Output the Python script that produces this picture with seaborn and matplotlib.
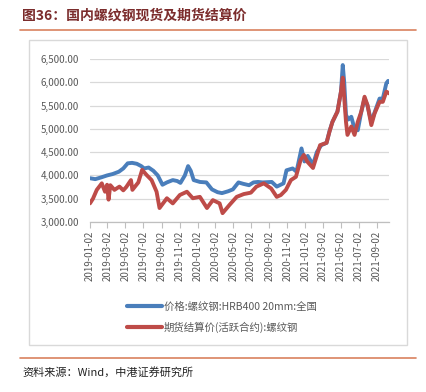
import pandas as pd
import matplotlib
matplotlib.use("Agg")
import matplotlib.pyplot as plt
import matplotlib.dates as mdates
from matplotlib.lines import Line2D
from matplotlib.patches import Rectangle
from matplotlib.ticker import FuncFormatter
import seaborn as sns

# spot price, HRB400 20mm rebar, national average
spot_dates = [
    "2019-01-02", "2019-01-20", "2019-02-10", "2019-03-01", "2019-03-20", "2019-04-10",
    "2019-04-25", "2019-05-10", "2019-05-25", "2019-06-10", "2019-06-25", "2019-07-05",
    "2019-07-20", "2019-08-05", "2019-08-20", "2019-09-05", "2019-09-20", "2019-10-10",
    "2019-10-25", "2019-11-05", "2019-11-20", "2019-12-01", "2019-12-10", "2019-12-20",
    "2020-01-10", "2020-02-01", "2020-02-20", "2020-03-10", "2020-03-25", "2020-04-15",
    "2020-05-01", "2020-05-20", "2020-06-05", "2020-06-25", "2020-07-10", "2020-07-25",
    "2020-08-10", "2020-09-10", "2020-09-27", "2020-10-20", "2020-10-30", "2020-11-20",
    "2020-12-03", "2020-12-20", "2020-12-30", "2021-01-10", "2021-01-28", "2021-02-10",
    "2021-02-25", "2021-03-15", "2021-03-25", "2021-04-04", "2021-04-21", "2021-05-03",
    "2021-05-09", "2021-05-14", "2021-05-20", "2021-05-28", "2021-06-07", "2021-06-18",
    "2021-06-29", "2021-07-11", "2021-07-22", "2021-08-01", "2021-08-14", "2021-08-25",
    "2021-09-11", "2021-09-22", "2021-10-04", "2021-10-10", "2021-10-14",
]
spot_values = [
    3940, 3920, 3960, 4000, 4030, 4080,
    4150, 4260, 4270, 4250, 4200, 4150,
    4170, 4100, 4000, 3800, 3850, 3900,
    3880, 3840, 4000, 4200, 4100, 3900,
    3860, 3850, 3700, 3640, 3620, 3660,
    3700, 3850, 3820, 3790, 3850, 3860,
    3850, 3860, 3760, 3830, 4110, 4150,
    4080, 4580, 4300, 4420, 4230, 4500,
    4650, 4700, 4950, 5150, 5370, 5800,
    6370, 6000, 5300, 5200, 5260, 5000,
    4970, 5370, 5650, 5500, 5150, 5350,
    5650, 5650, 5980, 6030, 6010,
]

# futures settlement price, most active rebar contract
fut_dates = [
    "2019-01-02", "2019-01-12", "2019-01-25", "2019-02-11", "2019-02-22", "2019-03-01",
    "2019-03-06", "2019-03-12", "2019-03-26", "2019-04-12", "2019-04-25", "2019-05-05",
    "2019-05-21", "2019-05-26", "2019-06-15", "2019-06-28", "2019-07-13", "2019-07-30",
    "2019-08-16", "2019-08-26", "2019-09-20", "2019-10-10", "2019-11-03", "2019-11-27",
    "2019-12-17", "2020-01-10", "2020-02-03", "2020-02-23", "2020-03-17", "2020-03-27",
    "2020-04-20", "2020-05-14", "2020-06-07", "2020-07-01", "2020-07-20", "2020-08-14",
    "2020-09-08", "2020-09-27", "2020-10-11", "2020-10-28", "2020-11-14", "2020-12-01",
    "2020-12-17", "2020-12-28", "2021-01-08", "2021-01-28", "2021-02-21", "2021-03-15",
    "2021-03-25", "2021-04-04", "2021-04-21", "2021-05-03", "2021-05-09", "2021-05-20",
    "2021-05-25", "2021-06-07", "2021-06-18", "2021-06-29", "2021-07-11", "2021-07-22",
    "2021-08-01", "2021-08-14", "2021-08-25", "2021-09-11", "2021-09-22", "2021-10-04",
    "2021-10-14",
]
fut_values = [
    3400, 3500, 3690, 3830, 3650, 3800,
    3480, 3790, 3690, 3760, 3680, 3750,
    3900, 3690, 3850, 4120, 4010, 3900,
    3650, 3300, 3510, 3400, 3580, 3650,
    3510, 3540, 3300, 3470, 3400, 3190,
    3370, 3540, 3600, 3630, 3760, 3830,
    3720, 3540, 3580, 3690, 3900, 3970,
    4330, 4440, 4300, 4160, 4650, 4700,
    4940, 5150, 5370, 5800, 6100, 5150,
    4870, 5050, 4870, 5150, 5370, 5690,
    5510, 5080, 5330, 5580, 5580, 5800,
    5760,
]

tick_labels = [
    "2019-01-02", "2019-03-02", "2019-05-02", "2019-07-02", "2019-09-02", "2019-11-02",
    "2020-01-02", "2020-03-02", "2020-05-02", "2020-07-02", "2020-09-02", "2020-11-02",
    "2021-01-02", "2021-03-02", "2021-05-02", "2021-07-02", "2021-09-02",
]
y_ticks = [3000, 3500, 4000, 4500, 5000, 5500, 6000, 6500]

spot_name = "价格:螺纹钢:HRB400 20mm:全国"
fut_name = "期货结算价(活跃合约):螺纹钢"

spot = pd.DataFrame({"date": pd.to_datetime(spot_dates), "value": spot_values})
fut = pd.DataFrame({"date": pd.to_datetime(fut_dates), "value": fut_values})

sns.set_theme(style="white")
plt.rcParams["font.family"] = ["Noto Sans CJK SC", "DejaVu Sans"]

fig = plt.figure(figsize=(4.26, 3.92), dpi=100)
W, H = 426, 392
ax = fig.add_axes([90 / W, 1 - 222 / H, (389 - 90) / W, (222 - 59) / H])

blue = "#4a7ebb"
red = "#be4b48"
sns.lineplot(data=spot, x="date", y="value", ax=ax, color=blue, linewidth=2.8, label=spot_name)
sns.lineplot(data=fut, x="date", y="value", ax=ax, color=red, linewidth=2.8, label=fut_name)

ax.set_ylim(3000, 6500)
ax.set_yticks(y_ticks)
ax.yaxis.set_major_formatter(FuncFormatter(lambda v, p: f"{v:,.2f}"))
ax.set_xlim(pd.Timestamp("2019-01-02"), pd.Timestamp("2021-10-13"))
ax.set_xticks(pd.to_datetime(tick_labels))
ax.xaxis.set_major_formatter(mdates.DateFormatter("%Y-%m-%d"))
ax.set_xlabel("")
ax.set_ylabel("")

ax.grid(axis="y", color="#d9d9d9", linewidth=0.9)
ax.set_axisbelow(True)
for s in ["left", "right", "top"]:
    ax.spines[s].set_visible(False)
ax.spines["bottom"].set_color("#bfbfbf")
ax.spines["bottom"].set_linewidth(0.9)
ax.tick_params(axis="y", length=0, labelsize=7, labelcolor="#595959", pad=8)
ax.tick_params(axis="x", length=4, width=0.8, color="#bfbfbf", direction="out",
               labelsize=7, labelcolor="#595959", rotation=90, pad=2, bottom=True)

ax.get_legend().remove()
handles = [Line2D([], [], color=blue, linewidth=3), Line2D([], [], color=red, linewidth=3)]
fig.legend(handles, [spot_name, fut_name], loc="upper left",
           bbox_to_anchor=(118 / W, 1 - 292 / H), frameon=False, fontsize=7.5,
           handlelength=3.3, handletextpad=0.2, labelspacing=1.0, labelcolor="#595959")

# chart frame
fig.patches.append(Rectangle((29 / W, 1 - 345 / H), 378 / W, 305 / H, transform=fig.transFigure,
                             fill=False, edgecolor="#d9d9d9", linewidth=1.0))

# title and rules
fig.text(22 / W, 1 - 16 / H, "图36：国内螺纹钢现货及期货结算价", fontsize=10, fontweight="bold",
         color="#7b2c2c", va="center", ha="left")
fig.lines.append(Line2D([20 / W, 416 / W], [1 - 30 / H, 1 - 30 / H], transform=fig.transFigure,
                        color="#d9825f", linewidth=1.2))
fig.lines.append(Line2D([20 / W, 416 / W], [1 - 358 / H, 1 - 358 / H], transform=fig.transFigure,
                        color="#d9825f", linewidth=1.2))
fig.text(22 / W, 1 - 372 / H, "资料来源：Wind，中港证券研究所", fontsize=8, style="italic",
         color="#222222", va="center", ha="left")

fig.savefig("out.png", dpi=100)
